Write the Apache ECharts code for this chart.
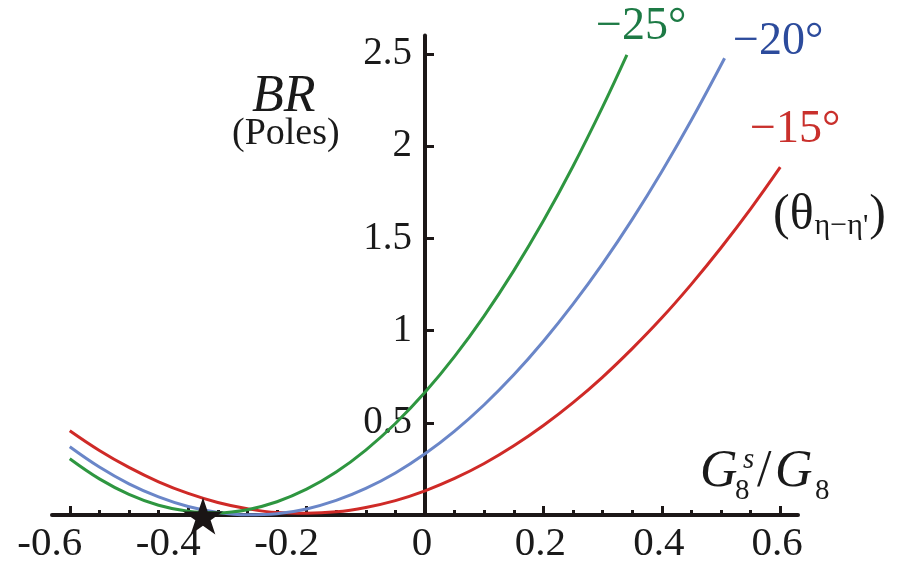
<!DOCTYPE html>
<html>
<head>
<meta charset="utf-8">
<script src="https://cdn.jsdelivr.net/npm/echarts@6/dist/echarts.min.js"></script>
<style>
html,body{margin:0;padding:0;background:#fff;}
#chart{width:919px;height:565px;}
</style>
</head>
<body>
<div id="chart"></div>
<script>
// ---- data ----
const xMajorTicks = [-0.6, -0.4, -0.2, 0, 0.2, 0.4, 0.6];
const xMinorTicks = [-0.55, -0.5, -0.45, -0.35, -0.3, -0.25, -0.15, -0.1, -0.05, 0.05, 0.1, 0.15, 0.25, 0.3, 0.35, 0.45, 0.5, 0.55];
const yTicks = [0.5, 1, 1.5, 2, 2.5];

const greenX = [-0.6,-0.55,-0.5,-0.45,-0.4,-0.35,-0.3,-0.25,-0.2,-0.15,-0.1,-0.05,0,0.05,0.1,0.15,0.2,0.25,0.3,0.341];
const greenY = [0.305,0.196,0.112,0.053,0.020,0.012,0.029,0.072,0.140,0.233,0.352,0.496,0.665,0.860,1.080,1.325,1.595,1.891,2.213,2.495];

const blueX = [-0.6,-0.55,-0.5,-0.45,-0.4,-0.35,-0.3,-0.25,-0.2,-0.15,-0.1,-0.05,0,0.05,0.1,0.15,0.2,0.25,0.3,0.35,0.4,0.45,0.506];
const blueY = [0.370,0.260,0.169,0.098,0.046,0.014,0.001,0.007,0.033,0.079,0.144,0.228,0.332,0.455,0.598,0.760,0.942,1.143,1.363,1.603,1.863,2.142,2.477];

const redX = [-0.6,-0.55,-0.5,-0.45,-0.4,-0.35,-0.3,-0.25,-0.2,-0.15,-0.1,-0.05,0,0.05,0.1,0.15,0.2,0.25,0.3,0.35,0.4,0.45,0.5,0.55,0.6];
const redY = [0.457,0.350,0.258,0.180,0.117,0.068,0.034,0.013,0.009,0.017,0.041,0.078,0.131,0.198,0.279,0.375,0.485,0.609,0.748,0.902,1.069,1.252,1.449,1.660,1.886];

const starPoint = [-0.375, 0];

// ---- chart ----
const SERIF = "'Liberation Serif', 'Times New Roman', Times, 'DejaVu Serif', serif";
const AXIS = '#1c1717';
const TXT = '#1a1a1a';
const zip = (xs, ys) => xs.map((x, i) => [x, ys[i]]);

const chart = echarts.init(document.getElementById('chart'), null, {renderer: 'canvas'});

const lineSeries = (name, xs, ys, color) => ({
  name, type: 'line', xAxisIndex: 0, yAxisIndex: 0,
  data: zip(xs, ys), smooth: 0.4, showSymbol: false, clip: false,
  lineStyle: {color, width: 3}, z: 3
});

const option = {
  animation: false,
  backgroundColor: '#fff',
  grid: {left: 52, right: 121, top: 35.5, bottom: 48.5, containLabel: false},
  xAxis: [{
    type: 'value', min: -0.63, max: 0.63, position: 'bottom',
    axisLine: {show: true, onZero: false, lineStyle: {color: AXIS, width: 4}},
    axisTick: {show: true, inside: true, length: 9, customValues: xMajorTicks, lineStyle: {color: AXIS, width: 3}},
    axisLabel: {
      show: true, customValues: xMajorTicks, margin: 9, color: TXT,
      fontFamily: SERIF, fontSize: 41,
      formatter: v => (v < 0 ? '{n|' + String(v) + '}' : '{p|' + String(v) + '}'),
      rich: {
        n: {fontFamily: SERIF, fontSize: 41, color: TXT, padding: [0, 40, 0, 0]},
        p: {fontFamily: SERIF, fontSize: 41, color: TXT, padding: [0, 6, 0, 0]}
      }
    },
    splitLine: {show: false}
  }, {
    type: 'value', min: -0.63, max: 0.63, position: 'bottom', offset: 0,
    axisLine: {show: false, onZero: false},
    axisTick: {show: true, inside: true, length: 5, customValues: xMinorTicks, lineStyle: {color: AXIS, width: 3}},
    axisLabel: {show: false},
    splitLine: {show: false}
  }],
  yAxis: {
    type: 'value', min: 0, max: 2.6, position: 'left', offset: -373,
    axisLine: {show: true, onZero: false, lineStyle: {color: AXIS, width: 4}},
    axisTick: {show: true, inside: true, length: 9, customValues: yTicks, lineStyle: {color: AXIS, width: 3}},
    axisLabel: {show: true, customValues: yTicks, margin: 13, fontFamily: SERIF, fontSize: 39, color: TXT},
    splitLine: {show: false}
  },
  series: [
    lineSeries('-15°', redX, redY, '#cf2a27'),
    lineSeries('-20°', blueX, blueY, '#6a86c8'),
    lineSeries('-25°', greenX, greenY, '#2e9640'),
    {
      name: 'star', type: 'scatter', data: [starPoint], clip: false, z: 5,
      symbol: 'path://M50,0 L61.2,34.5 L97.6,34.5 L68.2,55.9 L79.4,90.5 L50,69.1 L20.6,90.5 L31.8,55.9 L2.4,34.5 L38.8,34.5 Z',
      symbolSize: [40, 37], symbolOffset: [0, 1],
      itemStyle: {color: '#1a1515', opacity: 1}
    }
  ],
  graphic: [
    {type: 'text', x: 252, y: 97, style: {text: 'BR', font: 'italic 52px ' + SERIF, fill: TXT, verticalAlign: 'middle'}},
    {type: 'text', x: 232, y: 134, style: {text: '(Poles)', font: '38px ' + SERIF, fill: TXT, verticalAlign: 'middle'}},
    {type: 'text', x: 596, y: 27, style: {text: '\u221225°', font: '46px ' + SERIF, fill: '#1d7a45', verticalAlign: 'middle'}},
    {type: 'text', x: 733, y: 42, style: {text: '\u221220°', font: '46px ' + SERIF, fill: '#2c4b9c', verticalAlign: 'middle'}},
    {type: 'text', x: 750, y: 130, style: {text: '\u221215°', font: '46px ' + SERIF, fill: '#c9302c', verticalAlign: 'middle'}},
    {type: 'text', x: 773, y: 216, style: {
      text: '{a|(θ}{b|η\u2212η\'}{a|)}', fill: TXT, verticalAlign: 'middle',
      rich: {
        a: {font: '50px ' + SERIF, fill: TXT},
        b: {font: '30px ' + SERIF, fill: TXT, verticalAlign: 'bottom', padding: [0, 1, 0, 1]}
      }
    }},
    {type: 'text', x: 700, y: 472, style: {text: 'G', font: 'italic 52px ' + SERIF, fill: TXT, verticalAlign: 'middle'}},
    {type: 'text', x: 743, y: 460, style: {text: 's', font: 'italic 29px ' + SERIF, fill: TXT, verticalAlign: 'middle'}},
    {type: 'text', x: 735, y: 491, style: {text: '8', font: '29px ' + SERIF, fill: TXT, verticalAlign: 'middle'}},
    {type: 'text', x: 757, y: 472, style: {text: '/', font: '52px ' + SERIF, fill: TXT, verticalAlign: 'middle'}},
    {type: 'text', x: 775, y: 472, style: {text: 'G', font: 'italic 52px ' + SERIF, fill: TXT, verticalAlign: 'middle'}},
    {type: 'text', x: 815, y: 491, style: {text: '8', font: '29px ' + SERIF, fill: TXT, verticalAlign: 'middle'}}
  ]
};
chart.setOption(option);
</script>
</body>
</html>
